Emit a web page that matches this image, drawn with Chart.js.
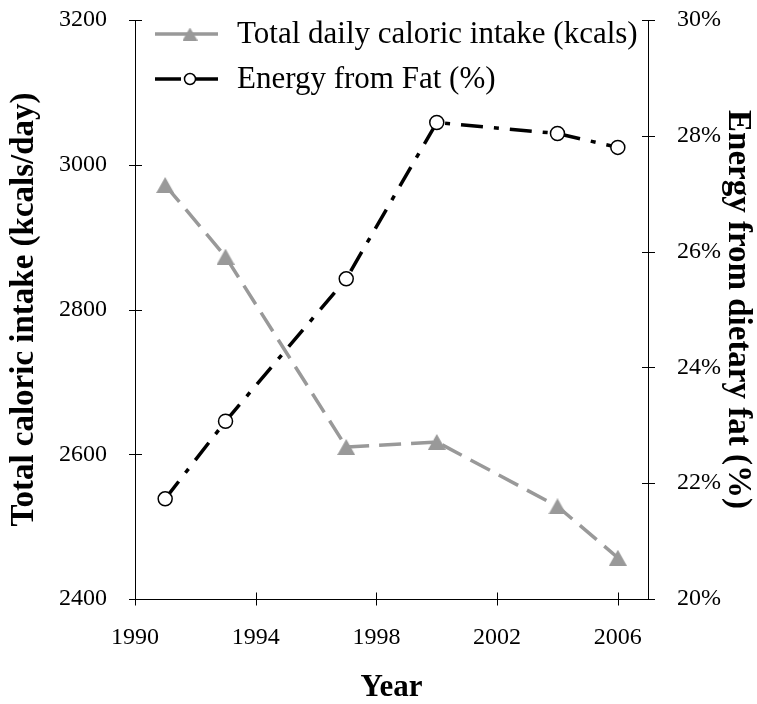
<!DOCTYPE html>
<html>
<head>
<meta charset="utf-8">
<script src="https://cdn.jsdelivr.net/npm/chart.js@4.4.1/dist/chart.umd.min.js"></script>
<style>
  html, body { margin: 0; padding: 0; background: #ffffff; }
  #wrap { width: 757px; height: 704px; }
</style>
</head>
<body>
<div id="wrap"><canvas id="chart" width="757" height="704"></canvas></div>
<script>
// Survey years and the two measured series
const years = [1991, 1993, 1997, 2000, 2004, 2006];
const caloricIntake = [2972, 2873, 2610, 2617, 2528, 2457];   // kcals/day
const energyFromFat = [21.73, 23.07, 25.53, 28.23, 28.04, 27.80]; // % of energy

// Axis tick values
const yearTicks = [1990, 1994, 1998, 2002, 2006];
const kcalTicks = [2400, 2600, 2800, 3000, 3200];
const fatTicks = [20, 22, 24, 26, 28, 30];

const seriesNames = ['Total daily caloric intake (kcals)', 'Energy from Fat (%)'];

const SERIF = '"Liberation Serif", "Times New Roman", Times, serif';
const GRAY = '#999999';
const BLACK = '#000000';

// Filled triangle marker, centred on its data point
function makeTriangle(w, h, color) {
  const c = document.createElement('canvas');
  c.width = w; c.height = h;
  const g = c.getContext('2d');
  g.fillStyle = color;
  g.beginPath();
  g.moveTo(w / 2, 0);
  g.lineTo(w, h);
  g.lineTo(0, h);
  g.closePath();
  g.fill();
  return c;
}
const triangleMarker = makeTriangle(18, 16, GRAY);
const triangleLegend = makeTriangle(15, 13, GRAY);

const useTicks = list => scale => { scale.ticks = list.map(v => ({ value: v })); };

// Fixed axis box sizes; label overhang does not push the plot area inward
const fixWidth = w => s => { s.width = w; s.paddingTop = 0; s.paddingBottom = 0; };
const fixHeight = h => s => { s.height = h; s.paddingLeft = 0; s.paddingRight = 0; };

// Tick marks that cross the axis line on both sides
const crossTicks = {
  id: 'crossTicks',
  afterDraw(chart) {
    const ctx = chart.ctx;
    ctx.save();
    ctx.strokeStyle = BLACK;
    ctx.lineWidth = 1;
    for (const id of ['x', 'yKcal', 'yFat']) {
      const s = chart.scales[id];
      for (const t of s.ticks) {
        const p = Math.round(s.getPixelForValue(t.value)) + 0.5;
        ctx.beginPath();
        if (s.isHorizontal()) {
          const y = s.top;
          ctx.moveTo(p, y - 6.5);
          ctx.lineTo(p, y + 6.5);
        } else {
          const x = Math.round(s.position === 'left' ? s.right : s.left) + 0.5;
          ctx.moveTo(x - 6.5, p);
          ctx.lineTo(x + 6.5, p);
        }
        ctx.stroke();
      }
    }
    ctx.restore();
  }
};

// Legend drawn inside the plot, top-left
const insideLegend = {
  id: 'insideLegend',
  afterDraw(chart) {
    const ctx = chart.ctx;
    const area = chart.chartArea;
    const rows = [area.top + 14, area.top + 59];
    const x0 = area.left + 20, x1 = area.left + 83, xm = area.left + 55;
    chart.data.datasets.forEach((ds, i) => {
      const y = rows[i];
      ctx.save();
      ctx.strokeStyle = ds.borderColor;
      ctx.lineWidth = ds.borderWidth;
      ctx.setLineDash(ds.legendDash || []);
      ctx.beginPath();
      ctx.moveTo(x0, y);
      ctx.lineTo(x1, y);
      ctx.stroke();
      ctx.setLineDash([]);
      if (ds.pointStyle === 'circle') {
        ctx.beginPath();
        ctx.arc(xm, y, 5.5, 0, Math.PI * 2);
        ctx.fillStyle = '#ffffff';
        ctx.fill();
        ctx.lineWidth = 1.5;
        ctx.strokeStyle = BLACK;
        ctx.stroke();
      } else {
        ctx.drawImage(triangleLegend, xm - triangleLegend.width / 2, y - triangleLegend.height / 2);
      }
      ctx.fillStyle = BLACK;
      ctx.font = '31px ' + SERIF;
      ctx.textBaseline = 'middle';
      ctx.textAlign = 'left';
      ctx.fillText(ds.label, area.left + 102, y + 1);
      ctx.restore();
    });
  }
};

const tickFont = { family: SERIF, size: 24 };
const titleFont = { family: SERIF, size: 33, weight: 'bold' };

new Chart(document.getElementById('chart'), {
  type: 'line',
  data: {
    datasets: [
      {
        label: seriesNames[0],
        yAxisID: 'yKcal',
        data: years.map((x, i) => ({ x, y: caloricIntake[i] })),
        borderColor: GRAY,
        borderWidth: 3.5,
        borderDash: [22, 10],
        legendDash: [],
        pointStyle: triangleMarker,
        pointRadius: 9,
        pointHoverRadius: 9,
        tension: 0,
        fill: false,
        order: 1
      },
      {
        label: seriesNames[1],
        yAxisID: 'yFat',
        data: years.map((x, i) => ({ x, y: energyFromFat[i] })),
        borderColor: BLACK,
        borderWidth: 3.5,
        borderDash: [22, 11, 5, 11],
        legendDash: [26, 14],
        pointStyle: 'circle',
        pointRadius: 7,
        pointHoverRadius: 7,
        pointBackgroundColor: '#ffffff',
        pointBorderColor: BLACK,
        pointBorderWidth: 1.5,
        tension: 0,
        fill: false,
        order: 0
      }
    ]
  },
  options: {
    responsive: false,
    animation: false,
    devicePixelRatio: 1,
    layout: { padding: { top: 20, left: 0, right: 0, bottom: 0 } },
    plugins: {
      legend: { display: false },
      tooltip: { enabled: false }
    },
    scales: {
      x: {
        type: 'linear',
        min: 1990,
        max: 2007,
        afterBuildTicks: useTicks(yearTicks),
        afterFit: fixHeight(105),
        grid: { display: false },
        border: { display: true, color: BLACK, width: 1 },
        ticks: { color: BLACK, font: tickFont, padding: 16, maxRotation: 0, autoSkip: false, callback: v => String(v) },
        title: { display: true, text: 'Year', color: BLACK, font: { family: SERIF, size: 31, weight: 'bold' }, padding: { top: 0, bottom: -3 } }
      },
      yKcal: {
        type: 'linear',
        position: 'left',
        min: 2400,
        max: 3200,
        afterBuildTicks: useTicks(kcalTicks),
        afterFit: fixWidth(135),
        grid: { display: false },
        border: { display: true, color: BLACK, width: 1 },
        ticks: { color: BLACK, font: tickFont, padding: 20, callback: v => String(v) },
        title: { display: true, text: 'Total caloric intake (kcals/day)', color: BLACK, font: titleFont, padding: { top: 5, bottom: 0 } }
      },
      yFat: {
        type: 'linear',
        position: 'right',
        min: 20,
        max: 30,
        afterBuildTicks: useTicks(fatTicks),
        afterFit: fixWidth(109),
        grid: { display: false },
        border: { display: true, color: BLACK, width: 1 },
        ticks: { color: BLACK, font: tickFont, padding: 21, callback: v => v + '%' },
        title: { display: true, text: 'Energy from dietary fat (%)', color: BLACK, font: titleFont, padding: { top: 0, bottom: 0 } }
      }
    }
  },
  plugins: [crossTicks, insideLegend]
});
</script>
</body>
</html>
